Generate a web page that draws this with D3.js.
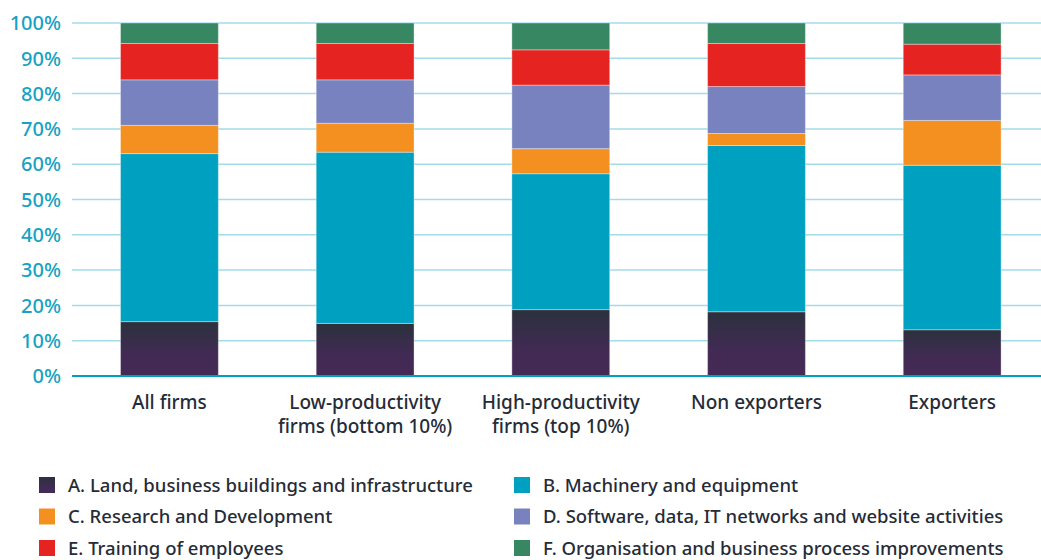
<!DOCTYPE html>
<html><head><meta charset="utf-8">
<script src="https://cdn.jsdelivr.net/npm/d3@7"></script>
<style>
html,body{margin:0;padding:0;background:#fff;}
svg{display:block;font-family:"Noto Sans",sans-serif;}
</style></head>
<body><svg id="chart" width="1041" height="560"></svg>
<script>
const categories = [["All firms"],["Low-productivity","firms (bottom 10%)"],["High-productivity","firms (top 10%)"],["Non exporters"],["Exporters"]];
const seriesNames = ["A. Land, business buildings and infrastructure","B. Machinery and equipment","C. Research and Development","D. Software, data, IT networks and website activities","E. Training of employees","F. Organisation and business process improvements"];
const seriesA = [15.4, 14.9, 18.8, 18.2, 13.1];
const seriesB = [47.6, 48.5, 38.5, 47.1, 46.6];
const seriesC = [8.0, 8.2, 7.1, 3.4, 12.7];
const seriesD = [12.9, 12.3, 18.0, 13.3, 12.9];
const seriesE = [10.3, 10.3, 10.0, 12.2, 8.7];
const seriesF = [5.8, 5.8, 7.6, 5.8, 6.0];
const yTicks = [0,10,20,30,40,50,60,70,80,90,100];

const colors = ["url(#gradA)","#00a0c1","#f39020","#7882bf","#e52421","#378862"];
const allSeries = [seriesA,seriesB,seriesC,seriesD,seriesE,seriesF];

const svg = d3.select("#chart");
const defs = svg.append("defs");
const g = defs.append("linearGradient").attr("id","gradA").attr("x1",0).attr("y1",0).attr("x2",0).attr("y2",1);
g.append("stop").attr("offset","0%").attr("stop-color","#2b313d");
g.append("stop").attr("offset","65%").attr("stop-color","#432a55");
g.append("stop").attr("offset","100%").attr("stop-color","#442a56");

const data = categories.map((c,i)=>{const o={key:i}; allSeries.forEach((s,j)=>o["s"+j]=s[i]); return o;});
const keys = allSeries.map((s,j)=>"s"+j);
const stacked = d3.stack().keys(keys)(data);

const x = d3.scaleBand().domain(d3.range(categories.length)).range([71.6,1050]).paddingInner(0.5).paddingOuter(0.25);
const y = d3.scaleLinear().domain([0,100]).range([376,23]);

// grid
svg.append("g").selectAll("line").data(yTicks.filter(t=>t>0)).join("line")
  .attr("x1",72).attr("x2",1041).attr("y1",d=>y(d)).attr("y2",d=>y(d))
  .attr("stroke","#a3dbe9").attr("stroke-width",1.5);

// y labels
svg.append("g").selectAll("text").data(yTicks).join("text")
  .attr("x",61).attr("y",d=>y(d)).attr("dy","0.36em").attr("text-anchor","end")
  .attr("fill","#16a2c3").attr("font-size",20).attr("font-weight",500).text(d=>d+"%");

// bars
svg.append("g").selectAll("g").data(stacked).join("g")
  .attr("fill",(d,i)=>colors[i])
  .selectAll("rect").data(d=>d).join("rect")
  .attr("x",(d,i)=>x(i)).attr("width",x.bandwidth())
  .attr("y",d=>y(d[1])).attr("height",d=>y(d[0])-y(d[1]))
  .attr("stroke","rgba(255,255,255,0.35)").attr("stroke-width",1);

// baseline
svg.append("line").attr("x1",72).attr("x2",1041).attr("y1",y(0)).attr("y2",y(0))
  .attr("stroke","#00a0c1").attr("stroke-width",2);

// x labels
const xl = svg.append("g").selectAll("text").data(categories).join("text")
  .attr("x",(d,i)=>x(i)+x.bandwidth()/2).attr("y",409).attr("text-anchor","middle")
  .attr("fill","#262b38").attr("font-size",19).attr("font-weight",500);
xl.selectAll("tspan").data(d=>d).join("tspan")
  .attr("x",function(){return this.parentNode.getAttribute("x");})
  .attr("dy",(d,i)=>i===0?0:24).text(d=>d);

// legend
const leg = svg.append("g").selectAll("g").data(seriesNames).join("g")
  .attr("transform",(d,i)=>`translate(${i%2===0?39:514},${477+Math.floor(i/2)*31.5})`);
leg.append("rect").attr("width",16).attr("height",16).attr("fill",(d,i)=>colors[i]);
leg.append("text").attr("x",29).attr("y",8).attr("dy","0.36em")
  .attr("fill","#262b38").attr("font-size",18.5).attr("font-weight",500).text(d=>d);
</script></body></html>
